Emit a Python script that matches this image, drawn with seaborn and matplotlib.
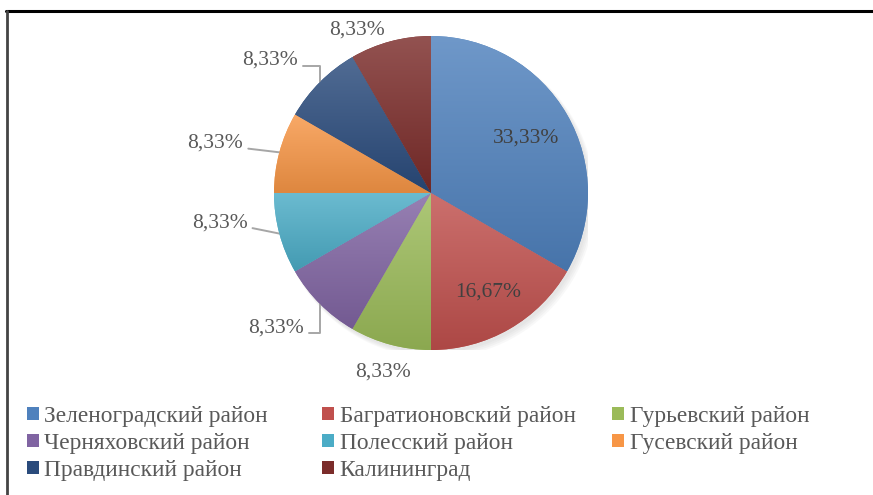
import numpy as np
import matplotlib.pyplot as plt
import matplotlib.colors as mcolors
from matplotlib.lines import Line2D
from matplotlib.patches import Patch, Circle
import seaborn as sns

# Data
districts = ["Зеленоградский район", "Багратионовский район", "Гурьевский район",
             "Черняховский район", "Полесский район", "Гусевский район",
             "Правдинский район", "Калининград"]
shares = [33.33, 16.67, 8.33, 8.33, 8.33, 8.33, 8.33, 8.33]
labels = ["33,33%", "16,67%", "8,33%", "8,33%", "8,33%", "8,33%", "8,33%", "8,33%"]

colors = ["#4F81BD", "#C0504D", "#9BBB59", "#8064A2",
          "#4BACC6", "#F79646", "#2A4B7C", "#7B2C2A"]

sns.set_theme(style="white")
plt.rcParams["font.family"] = ["Liberation Serif", "DejaVu Serif"]

fig = plt.figure(figsize=(8.73, 4.95), dpi=100)
ax = fig.add_axes([274 / 873, 145 / 495, 314 / 873, 314 / 495])

palette = sns.color_palette(colors)
wedges, _ = ax.pie(shares, colors=palette, startangle=90, counterclock=False,
                   radius=1.0, wedgeprops=dict(linewidth=0))

# soft shadow under the pie
for k in range(4):
    ax.add_patch(Circle((0.015 + 0.006 * k, -0.02 - 0.006 * k), 1.0 + 0.004 * k,
                        color="#808080", alpha=0.05, zorder=0, lw=0))

# vertical gradient inside each wedge (lighter top, darker bottom)
for w, c in zip(wedges, palette):
    path = w.get_patch_transform().transform_path(w.get_path())
    ext = path.get_extents()
    rgb = np.array(mcolors.to_rgb(c))
    top = rgb + (1 - rgb) * 0.18
    bot = rgb * 0.9
    t = np.linspace(0, 1, 64)[:, None]
    img = top[None, :] * (1 - t) + bot[None, :] * t
    im = ax.imshow(img[:, None, :], extent=[ext.x0, ext.x1, ext.y0, ext.y1],
                   aspect="auto", zorder=2, interpolation="bilinear")
    im.set_clip_path(w)

ax.set_xlim(-1, 1)
ax.set_ylim(-1, 1)
ax.axis("off")

# label placement (radius factor and angle shift per slice)
label_r = [0.70, 0.73, 1.18, 1.31, 1.36, 1.41, 1.33, 1.14]
label_shift = [0, 0, 0, -4, -7, 2, 5.6, 9.4]
leader = [None, None, None, "elbow", "straight", "straight", "elbow", None]
ang_edges = 90 - np.cumsum([0] + shares) / sum(shares) * 360
for i, (w, lab) in enumerate(zip(wedges, labels)):
    amid = np.deg2rad((ang_edges[i] + ang_edges[i + 1]) / 2)
    pos = amid + np.deg2rad(label_shift[i])
    x, y = label_r[i] * np.cos(pos), label_r[i] * np.sin(pos)
    col = "#404040" if i < 2 else "#595959"
    ax.text(x, y, lab, ha="center", va="center", fontsize=15.5, color=col,
            zorder=5, clip_on=False)
    if leader[i]:
        ex, ey = np.cos(amid), np.sin(amid)
        tx = x + 0.21
        ly = y - 0.035
        if leader[i] == "elbow":
            xs, ys = [ex, ex, tx], [ey, ly, ly]
        else:
            xs, ys = [ex, tx], [ey, ly]
        ax.plot(xs, ys, color="#A6A6A6", lw=1.4, clip_on=False, zorder=1)

# legend, row-major like the original: one legend per column
col_x = [27, 322, 612]
for c in range(3):
    idx = [i for i in range(len(districts)) if i % 3 == c]
    handles = [Patch(facecolor=palette[i], edgecolor="none") for i in idx]
    fig.legend(handles, [districts[i] for i in idx], loc="upper left",
               bbox_to_anchor=(col_x[c] / 873, 1 - 406 / 495), frameon=False,
               fontsize=16.8, borderpad=0, borderaxespad=0,
               handlelength=0.5, handleheight=0.5, handletextpad=0.25,
               labelspacing=0.25, labelcolor="#595959")

# frame lines like in the source document
fig.add_artist(Line2D([6 / 873, 1], [1 - 11 / 495, 1 - 11 / 495],
                      transform=fig.transFigure, color="black", lw=2.2))
fig.add_artist(Line2D([6.5 / 873, 6.5 / 873], [0, 1 - 11 / 495],
                      transform=fig.transFigure, color="#444444", lw=2.0))

fig.savefig("out.png", dpi=100)
